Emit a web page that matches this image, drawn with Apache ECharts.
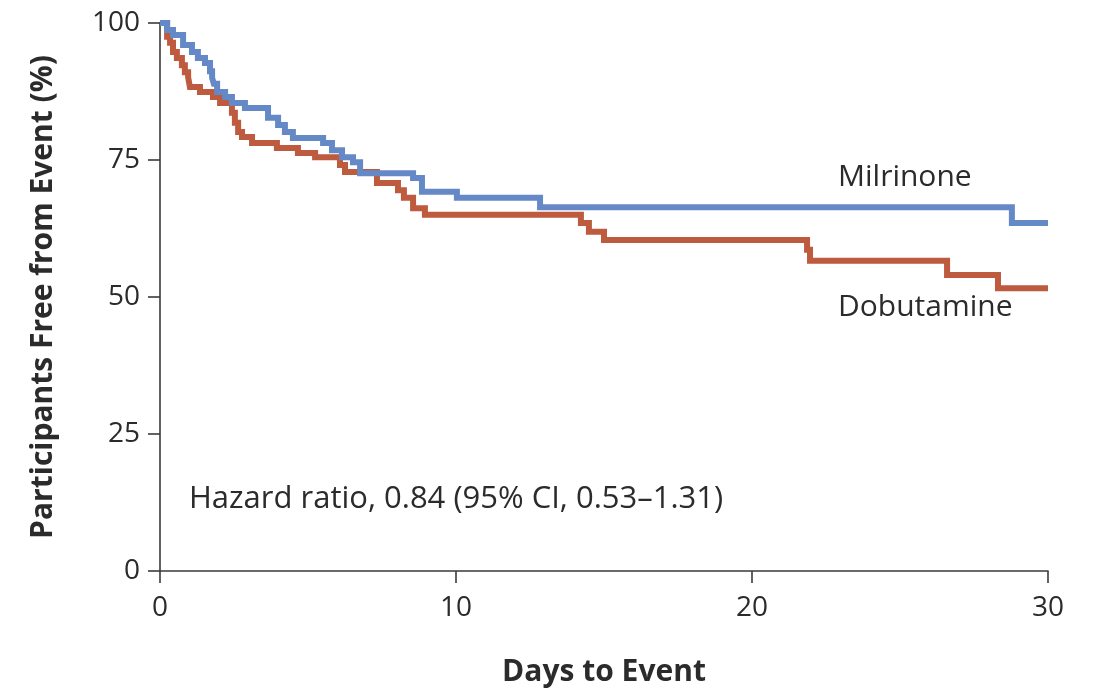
<!DOCTYPE html>
<html>
<head>
<meta charset="utf-8">
<script src="https://cdn.jsdelivr.net/npm/echarts@6/dist/echarts.min.js"></script>
<style>
  html, body { margin: 0; padding: 0; background: #fff; }
  #chart { width: 1094px; height: 689px; }
</style>
</head>
<body>
<div id="chart"></div>
<script>
// Kaplan–Meier estimates: [day, percent free from event]; each value holds until the next day listed
const milrinone = [
  [0, 100], [0.24, 98.7], [0.44, 97.8], [0.78, 96.0], [1.08, 94.7], [1.28, 93.6],
  [1.52, 92.7], [1.69, 91.2], [1.76, 90.0], [1.82, 88.9], [1.93, 87.4], [2.20, 86.5],
  [2.43, 85.4], [2.87, 84.5], [3.65, 82.7], [3.99, 81.4], [4.22, 80.1], [4.49, 79.0],
  [5.51, 78.1], [5.81, 76.8], [6.15, 75.5], [6.52, 74.6], [6.76, 72.6], [8.55, 71.7],
  [8.85, 69.2], [10.03, 68.1], [12.84, 66.4], [28.78, 63.5], [30, 63.5]
];
const dobutamine = [
  [0, 100], [0.24, 97.5], [0.34, 96.4], [0.44, 94.7], [0.57, 93.6], [0.74, 92.3],
  [0.84, 91.0], [0.95, 90.1], [1.01, 88.3], [1.35, 87.4], [1.79, 86.5], [2.03, 85.4],
  [2.43, 83.6], [2.53, 81.8], [2.64, 80.1], [2.77, 79.2], [3.11, 78.1], [3.95, 77.2],
  [4.66, 76.3], [5.24, 75.5], [6.08, 74.1], [6.25, 72.8], [7.33, 70.8], [8.04, 69.5],
  [8.24, 68.1], [8.55, 66.2], [8.95, 65.0], [14.22, 63.5], [14.49, 61.9], [15.0, 60.4],
  [21.86, 58.6], [21.96, 56.6], [26.59, 54.0], [28.31, 51.6], [30, 51.6]
];
const xTicks = [0, 10, 20, 30];
const yTicks = [0, 25, 50, 75, 100];
const seriesNames = ['Milrinone', 'Dobutamine'];
const hazardText = 'Hazard ratio, 0.84 (95% CI, 0.53\u20131.31)';
const xTitle = 'Days to Event';
const yTitle = 'Participants Free from Event (%)';

const FONT = '"Open Sans", "Noto Sans", sans-serif';
const INK = '#2b2b2b';
const BLUE = '#6588C6';
const RED = '#BE5A3E';

const chart = echarts.init(document.getElementById('chart'), null, { renderer: 'canvas' });

const axisCommon = {
  axisLine: { show: true, lineStyle: { color: '#3a3a3a', width: 1.6 } },
  axisTick: { show: true, inside: false, length: 12, lineStyle: { color: '#3a3a3a', width: 1.6 } },
  splitLine: { show: false },
  axisLabel: { color: INK, fontFamily: FONT, fontSize: 28 }
};

chart.setOption({
  backgroundColor: '#ffffff',
  animation: false,
  grid: { left: 160, right: 46, top: 23, bottom: 118, containLabel: false, outerBoundsMode: 'none' },
  xAxis: Object.assign({}, axisCommon, {
    type: 'value',
    min: xTicks[0],
    max: xTicks[xTicks.length - 1],
    interval: xTicks[1] - xTicks[0],
    name: xTitle,
    nameLocation: 'middle',
    nameGap: 86,
    nameTextStyle: { color: INK, fontFamily: FONT, fontSize: 30, fontWeight: 'bold' },
    axisLabel: Object.assign({}, axisCommon.axisLabel, { margin: 23 })
  }),
  yAxis: Object.assign({}, axisCommon, {
    type: 'value',
    min: yTicks[0],
    max: yTicks[yTicks.length - 1],
    interval: yTicks[1] - yTicks[0],
    name: yTitle,
    nameLocation: 'middle',
    nameGap: 102,
    nameRotate: 90,
    nameTextStyle: { color: INK, fontFamily: FONT, fontSize: 30, fontWeight: 'bold' },
    axisLabel: Object.assign({}, axisCommon.axisLabel, { margin: 20 })
  }),
  series: [
    {
      name: seriesNames[0],
      type: 'line',
      step: 'end',
      data: milrinone,
      showSymbol: false,
      lineStyle: { color: BLUE, width: 6, cap: 'butt', join: 'miter' },
      z: 3
    },
    {
      name: seriesNames[1],
      type: 'line',
      step: 'end',
      data: dobutamine,
      showSymbol: false,
      lineStyle: { color: RED, width: 6, cap: 'butt', join: 'miter' },
      z: 2
    }
  ],
  graphic: [
    {
      type: 'text', left: 838, top: 162,
      style: { text: seriesNames[0], fill: INK, font: '30px ' + FONT }
    },
    {
      type: 'text', left: 838, top: 292,
      style: { text: seriesNames[1], fill: INK, font: '30px ' + FONT }
    },
    {
      type: 'text', left: 189, top: 484,
      style: { text: hazardText, fill: INK, font: '31px ' + FONT }
    }
  ]
});
</script>
</body>
</html>
